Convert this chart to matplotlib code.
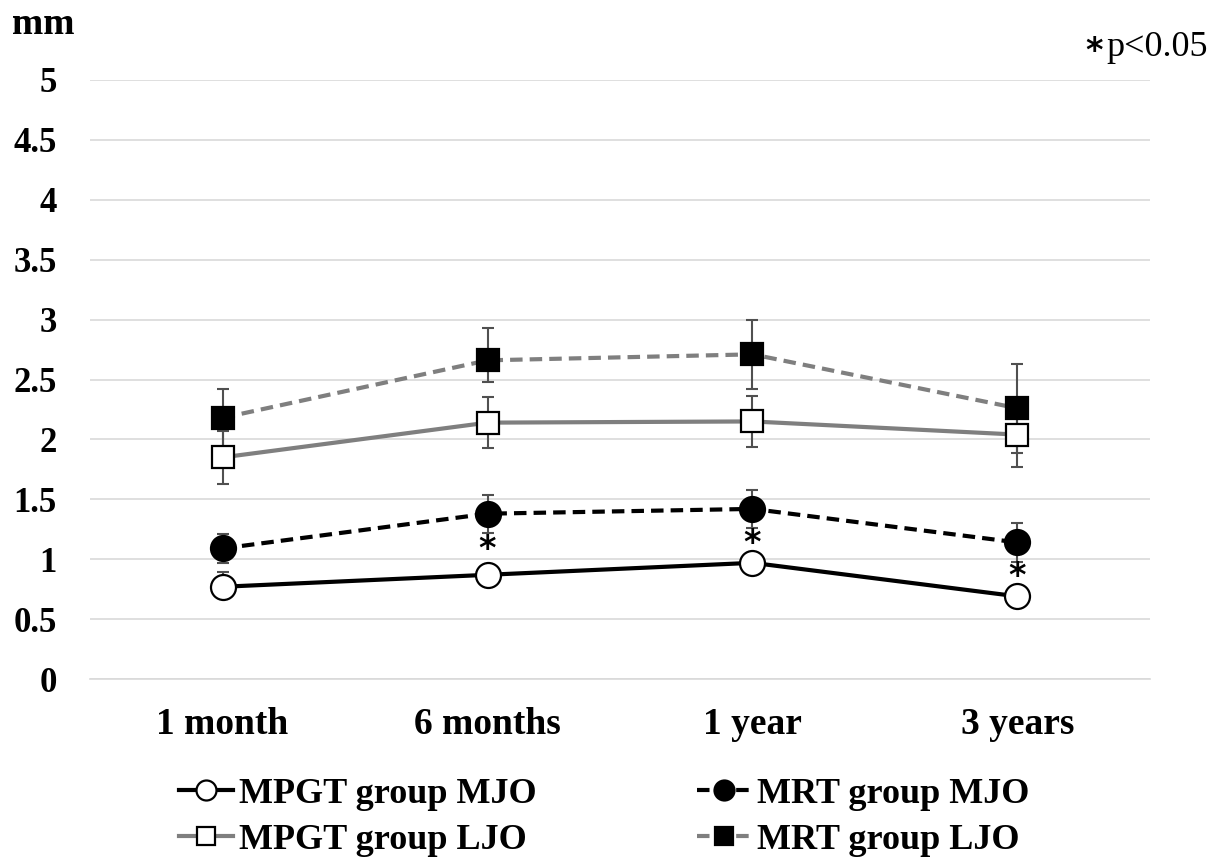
import matplotlib.pyplot as plt
import numpy as np

plt.rcParams['font.family'] = ['Liberation Serif', 'DejaVu Serif']

periods = ["1 month", "6 months", "1 year", "3 years"]

mpgt_mjo = [0.77, 0.87, 0.97, 0.69]
mpgt_mjo_err_low = [0.09, 0.08, 0.08, 0.08]
mpgt_mjo_err_high = [0.12, 0.08, 0.08, 0.08]

mrt_mjo = [1.09, 1.38, 1.42, 1.14]
mrt_mjo_err = [0.12, 0.16, 0.16, 0.16]

mpgt_ljo = [1.85, 2.14, 2.15, 2.04]
mpgt_ljo_err = [0.22, 0.21, 0.21, 0.27]

mrt_ljo = [2.18, 2.66, 2.71, 2.26]
mrt_ljo_err_low = [0.24, 0.18, 0.29, 0.37]
mrt_ljo_err_high = [0.24, 0.27, 0.29, 0.37]

# where the significance stars go (index of period, y)
sig_idx = [1, 2, 3]
sig_y = [1.08, 1.13, 0.86]

yticks = [0, 0.5, 1, 1.5, 2, 2.5, 3, 3.5, 4, 4.5, 5]
ytick_labels = ["0", "0.5", "1", "1.5", "2", "2.5", "3", "3.5", "4", "4.5", "5"]

fig = plt.figure(figsize=(12.23, 8.59), dpi=100)
ax = fig.add_axes([0.0736, 0.2095, 0.8667, 0.6974])

x = np.arange(len(periods))
black = "black"
gray = "#7f7f7f"
errc = "#505050"

# error bars first, under the markers
eb = dict(fmt="none", ecolor=errc, elinewidth=1.5, capsize=4, capthick=1.5, zorder=2)
ax.errorbar(x, mpgt_mjo, yerr=[mpgt_mjo_err_low, mpgt_mjo_err_high], **eb)
ax.errorbar(x, mrt_mjo, yerr=mrt_mjo_err, **eb)
ax.errorbar(x, mpgt_ljo, yerr=mpgt_ljo_err, **eb)
ax.errorbar(x, mrt_ljo, yerr=[mrt_ljo_err_low, mrt_ljo_err_high], **eb)

l1, = ax.plot(x, mpgt_mjo, color=black, lw=3, marker="o", ms=18, mfc="white", mec=black, mew=1.6, zorder=3)
l2, = ax.plot(x, mrt_mjo, color=black, lw=3, ls=(0, (3, 1.7)), marker="o", ms=18, mfc=black, mec=black, mew=1.6, zorder=3)
l3, = ax.plot(x, mpgt_ljo, color=gray, lw=3, marker="s", ms=16.5, mfc="white", mec=black, mew=1.6, zorder=3)
l4, = ax.plot(x, mrt_ljo, color=gray, lw=3, ls=(0, (3, 1.7)), marker="s", ms=16.5, mfc=black, mec=black, mew=1.6, zorder=3)

for i, yy in zip(sig_idx, sig_y):
    ax.text(x[i], yy, "*", ha="center", va="center", fontsize=24, fontweight="bold", family="DejaVu Sans")

ax.set_xlim(-0.5, len(periods) - 0.5)
ax.set_ylim(0, 5)
ax.set_yticks(yticks)
ax.set_yticklabels(ytick_labels)
ax.set_xticks(x)
ax.set_xticklabels(periods)
ax.tick_params(axis="y", length=0, pad=24, labelsize=25)
ax.tick_params(axis="x", length=0, pad=20, labelsize=27)
for lab in ax.get_xticklabels() + ax.get_yticklabels():
    lab.set_fontweight("bold")

ax.yaxis.grid(True, color="#d9d9d9", lw=1.2)
ax.set_axisbelow(True)
for s in ["top", "right", "left"]:
    ax.spines[s].set_visible(False)
ax.spines["bottom"].set_color("#d9d9d9")
ax.spines["bottom"].set_linewidth(1.2)

fig.text(0.010, 0.972, "mm", fontsize=27, fontweight="bold", va="center", ha="left")
fig.text(0.8875, 0.940, "*", fontsize=24, fontweight="bold", va="center", ha="left", family="DejaVu Sans")
fig.text(0.905, 0.945, "p<0.05", fontsize=26, va="center", ha="left")

leg = fig.legend([l1, l3, l2, l4],
                 ["MPGT group MJO", "MPGT group LJO", "MRT group MJO", "MRT group LJO"],
                 ncol=2, loc="center", bbox_to_anchor=(0.494, 0.049), frameon=False,
                 prop={"size": 26, "weight": "bold"}, handlelength=1.5, handletextpad=0.15,
                 columnspacing=4.45, labelspacing=0.35, markerscale=0.8)

fig.savefig("out.png", dpi=100)
